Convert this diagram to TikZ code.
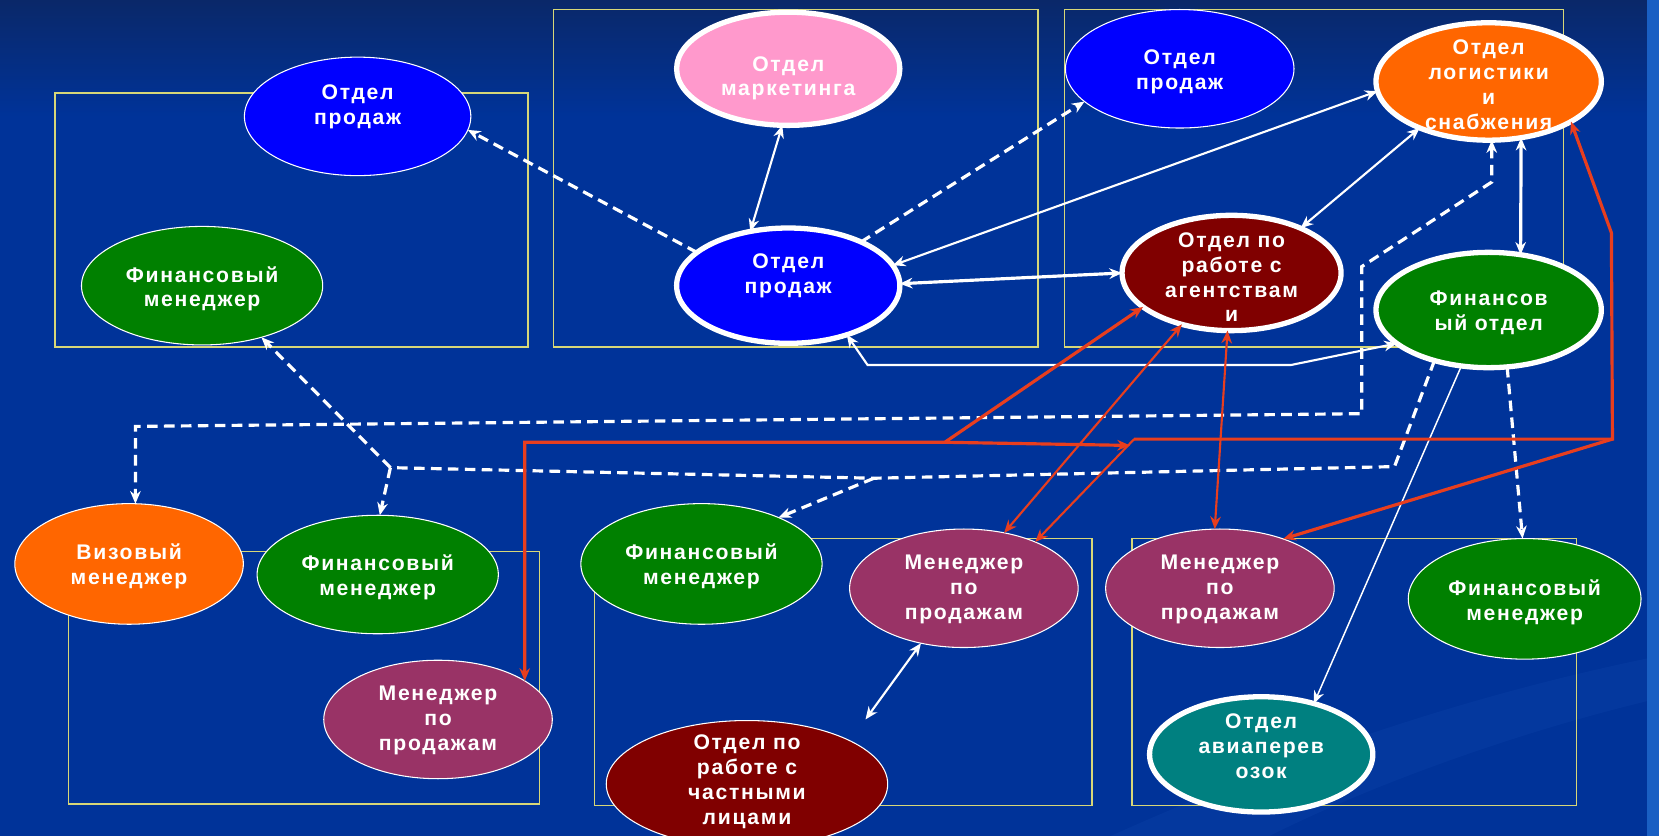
\documentclass[tikz,border=0pt]{standalone}
\usepackage{fontspec}
\newfontfamily\lblfont[LetterSpace=8]{Liberation Sans}
\usetikzlibrary{shapes.geometric,arrows.meta}
\definecolor{bg}{RGB}{0,51,153}
\definecolor{bgtop}{RGB}{10,40,105}
\definecolor{bgswoosh}{RGB}{12,66,168}
\definecolor{stripe}{RGB}{25,95,195}
\definecolor{boxc}{RGB}{215,215,120}
\definecolor{cblue}{RGB}{0,0,255}
\definecolor{cgreen}{RGB}{0,128,0}
\definecolor{cpink}{RGB}{255,153,204}
\definecolor{corange}{RGB}{255,102,0}
\definecolor{cdred}{RGB}{128,0,0}
\definecolor{cpurple}{RGB}{153,51,102}
\definecolor{cteal}{RGB}{0,128,128}
\definecolor{cred}{RGB}{232,62,30}
\begin{document}
\begin{tikzpicture}[x=1pt,y=-1pt,
  >={Stealth[length=12pt,width=10pt]},
  ell/.style={ellipse,inner sep=0pt,outer sep=0pt,draw=white},
  thinb/.style={ell,line width=1pt},
  thickb/.style={ell,line width=5pt},
  lbl/.style={text=white,align=center,inner sep=0pt,
    font=\lblfont\bfseries\fontsize{20}{23.5}\selectfont},
  box/.style={draw=boxc,line width=1.2pt},
  wthin/.style={draw=white,line width=2pt},
  wmed/.style={draw=white,line width=3pt},
  wvthin/.style={draw=white,line width=1.4pt},
  wdash/.style={draw=white,line width=3pt,dash pattern=on 10pt off 6pt},
  rthick/.style={draw=cred,line width=3pt},
  rthin/.style={draw=cred,line width=2pt}]
\useasboundingbox (0,0) rectangle (1568,790);
% background
\fill[bg] (0,0) rectangle (1568,790);
\shade[top color=bgtop,bottom color=bg] (0,0) rectangle (1568,110);
\fill[bgswoosh,opacity=0.35] (1050,790) .. controls (1250,700) and (1420,650) .. (1568,620)
  -- (1568,660) .. controls (1440,690) and (1300,740) .. (1200,790) -- cycle;
\fill[stripe] (1557,0) rectangle (1568,790);
% boxes
\draw[box] (52,88) rectangle (499,328);
\draw[box] (523,9) rectangle (981,328);
\draw[box] (1006,9) rectangle (1478,328);
\draw[box] (65,521) rectangle (510,760);
\draw[box] (562,509) rectangle (1032,761);
\draw[box] (1070,509) rectangle (1490,761);
% ellipses
\node[thinb,fill=cblue,minimum width=214pt,minimum height=112pt] (n1) at (338,110) {};
\node[thinb,fill=cgreen,minimum width=228pt,minimum height=112pt] (n2) at (191,270) {};
\node[thickb,fill=cpink,minimum width=211pt,minimum height=107pt] (n3) at (745,65) {};
\node[thickb,fill=cblue,minimum width=211pt,minimum height=109pt] (n4) at (745,270) {};
\node[thinb,fill=cblue,minimum width=216pt,minimum height=112pt] (n5) at (1115,65) {};
\node[thickb,fill=corange,minimum width=213pt,minimum height=111pt] (n6) at (1407,77) {};
\node[thickb,fill=cdred,minimum width=207pt,minimum height=109pt] (n7) at (1164,258) {};
\node[thickb,fill=cgreen,minimum width=213pt,minimum height=109pt] (n8) at (1407,293) {};
\node[thinb,fill=corange,minimum width=216pt,minimum height=114pt] (n9) at (122,533) {};
\node[thinb,fill=cgreen,minimum width=228pt,minimum height=112pt] (n10) at (357,543) {};
\node[thinb,fill=cpurple,minimum width=216pt,minimum height=112pt] (n11) at (414,680) {};
\node[thinb,fill=cgreen,minimum width=228pt,minimum height=114pt] (n12) at (663,533) {};
\node[thinb,fill=cpurple,minimum width=216pt,minimum height=112pt] (n13) at (911,556) {};
\node[thinb,fill=cdred,minimum width=266pt,minimum height=120pt] (n14) at (706,741) {};
\node[thinb,fill=cpurple,minimum width=216pt,minimum height=112pt] (n15) at (1153,556) {};
\node[thinb,fill=cgreen,minimum width=220pt,minimum height=114pt] (n16) at (1441,566) {};
\node[thickb,fill=cteal,minimum width=211pt,minimum height=109pt] (n17) at (1192,713) {};
% labels
\node[lbl] (t1) at (338,101) {Отдел\\продаж};
\node[lbl] (t2) at (191,273) {Финансовый\\менеджер};
\node[lbl] (t3) at (745,74) {Отдел\\маркетинга};
\node[lbl] (t4) at (745,261) {Отдел\\продаж};
\node[lbl] (t5) at (1115,68) {Отдел\\продаж};
\node[lbl] (t6) at (1407,80) {Отдел\\логистики\\и\\снабжения};
\node[lbl] (t7) at (1164,262) {Отдел по\\работе с\\агентствам\\и};
\node[lbl] (t8) at (1407,296) {Финансов\\ый отдел};
\node[lbl] (t9) at (122,535) {Визовый\\менеджер};
\node[lbl] (t10) at (357,546) {Финансовый\\менеджер};
\node[lbl] (t11) at (414,681) {Менеджер\\по\\продажам};
\node[lbl] (t12) at (663,535) {Финансовый\\менеджер};
\node[lbl] (t13) at (911,557) {Менеджер\\по\\продажам};
\node[lbl] (t14) at (706,739) {Отдел по\\работе с\\частными\\лицами};
\node[lbl] (t15) at (1153,557) {Менеджер\\по\\продажам};
\node[lbl] (t16) at (1441,569) {Финансовый\\менеджер};
\node[lbl] (t17) at (1192,705) {Отдел\\авиаперев\\озок};
% helper coordinates
\coordinate (f1) at (820,345);
\coordinate (f2) at (1220,345);
\coordinate (h2) at (818,680);
\coordinate (J) at (369,442);
\coordinate (M) at (826,452);
\coordinate (K) at (1318,441);
\coordinate (L1) at (1410,172);
\coordinate (L2) at (1287,252);
\coordinate (L3) at (1287,391);
\coordinate (L4) at (128,403);
\coordinate (P1) at (893,418);
\coordinate (P2) at (496,418);
\coordinate (Qa) at (1068,421);
\coordinate (Q) at (1072,415);
\coordinate (R) at (1524,415);
\coordinate (S) at (1523,220);
% white solid connectors
\draw[wthin,<->] (n3.264) -- (n4.125);
\draw[wthin,<->] (n4.11) -- (n6.185);
\draw[wmed,<->] (n4.1) -- (n7.180);
\draw[wthin,<->] (n7.33) -- (n6.214);
\draw[wmed,<->] (n6.300) -- (n8.60);
\draw[wthin,<->] (n4.320) -- (f1) -- (f2) -- (n8.200);
\draw[wvthin,->] (n8.244) -- (n17.44);
\draw[wthin,<->] (n13.232) -- (h2);
% white dashed connectors
\draw[wdash,->] (n4.160) -- (n1.353);
\draw[wdash,->] (n4.31) -- (n5.199);
\draw[wdash,->] (J) -- (n2.319);
\draw[wdash,->] (J) -- (n10.88);
\draw[wdash] (n8.223) -- (K) -- (M) -- (J);
\draw[wdash,->] (M) -- (n12.31);
\draw[wdash,<->] (n6.273) -- (L1) -- (L2) -- (L3) -- (L4) -- (n9.84);
\draw[wdash,->] (n8.288) -- (n16.92);
% red connectors
\draw[rthick,<->] (n7.201) -- (P1) -- (P2) -- (n11.24);
\draw[rthick,->] (P1) -- (Qa);
\draw[rthick,<-] (n6.334) -- (S) -- (R) -- (Q);
\draw[rthin,->] (Q) -- (n13.33);
\draw[rthick,->] (R) -- (n15.38);
\draw[rthin,<->] (n13.54) -- (n7.226);
\draw[rthin,<->] (n7.266) -- (n15.95);
\end{tikzpicture}
\end{document}
